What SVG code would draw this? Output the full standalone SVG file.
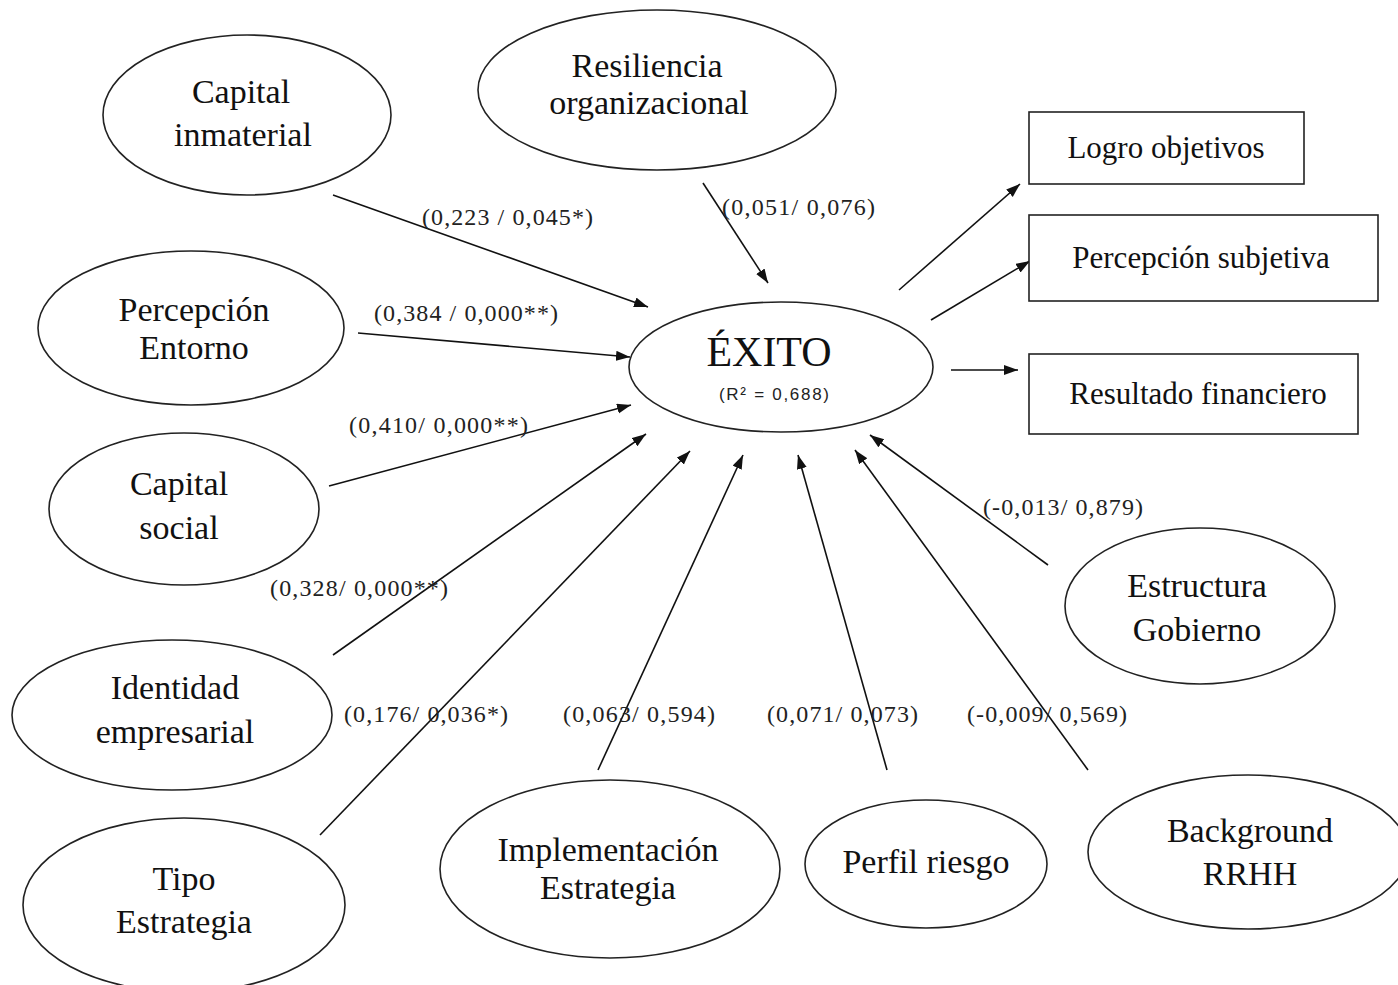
<svg xmlns="http://www.w3.org/2000/svg" width="1398" height="985" viewBox="0 0 1398 985">
<style>
.n ellipse, .n rect { fill: #fff; stroke: #222; stroke-width: 1.6; }
.t { font-family: "Liberation Serif", "Times New Roman", serif; font-size: 34px; fill: #111; text-anchor: middle; }
.bt { font-family: "Liberation Serif", "Times New Roman", serif; font-size: 31px; fill: #111; text-anchor: middle; }
.lb { font-family: "Liberation Serif", "Times New Roman", serif; font-size: 24px; fill: #222; }
.c line { stroke: #111; stroke-width: 1.6; marker-end: url(#ah); }
</style>
<defs>
<marker id="ah" markerUnits="userSpaceOnUse" markerWidth="15" markerHeight="11" refX="14" refY="5" orient="auto">
<path d="M0,0 L14,5 L0,10 z" fill="#111"/>
</marker>
</defs>
<rect width="1398" height="985" fill="#fff"/>

<g id="connectors" class="c">
<line x1="333" y1="195" x2="648" y2="307"/>
<line x1="703" y1="183" x2="768" y2="283"/>
<line x1="358" y1="333" x2="630" y2="357"/>
<line x1="329" y1="486" x2="631" y2="405"/>
<line x1="333" y1="655" x2="646" y2="434"/>
<line x1="320" y1="835" x2="690" y2="451"/>
<line x1="598" y1="770" x2="743" y2="455"/>
<line x1="887" y1="770" x2="798" y2="455"/>
<line x1="1088" y1="770" x2="855" y2="450"/>
<line x1="1048" y1="565" x2="870" y2="435"/>
<line x1="899" y1="290" x2="1020" y2="184"/>
<line x1="931" y1="320" x2="1030" y2="261"/>
<line x1="951" y1="370" x2="1018" y2="370"/>
</g>

<g id="labels">
<text class="lb" x="422" y="225" textLength="171" lengthAdjust="spacing">(0,223 / 0,045*)</text>
<text class="lb" x="722" y="215" textLength="153" lengthAdjust="spacing">(0,051/ 0,076)</text>
<text class="lb" x="374" y="321" textLength="184" lengthAdjust="spacing">(0,384 / 0,000**)</text>
<text class="lb" x="349" y="433" textLength="179" lengthAdjust="spacing">(0,410/ 0,000**)</text>
<text class="lb" x="270" y="596" textLength="178" lengthAdjust="spacing">(0,328/ 0,000**)</text>
<text class="lb" x="344" y="722" textLength="164" lengthAdjust="spacing">(0,176/ 0,036*)</text>
<text class="lb" x="563" y="722" textLength="152" lengthAdjust="spacing">(0,063/ 0,594)</text>
<text class="lb" x="767" y="722" textLength="151" lengthAdjust="spacing">(0,071/ 0,073)</text>
<text class="lb" x="967" y="722" textLength="160" lengthAdjust="spacing">(-0,009/ 0,569)</text>
<text class="lb" x="983" y="515" textLength="160" lengthAdjust="spacing">(-0,013/ 0,879)</text>
</g>

<g id="exito" class="n">
<ellipse cx="781" cy="367" rx="152" ry="65"/>
<text class="t" x="769" y="366" style="font-size:42px">ÉXITO</text>
<text x="774" y="400" style="font-family:'Liberation Sans',Arial,sans-serif;font-size:17px;fill:#222;text-anchor:middle" textLength="110" lengthAdjust="spacing">(R² = 0,688)</text>
</g>

<g id="capital-inmaterial" class="n">
<ellipse cx="247" cy="115" rx="144" ry="80"/>
<text class="t" x="241" y="103">Capital</text>
<text class="t" x="243" y="146">inmaterial</text>
</g>

<g id="resiliencia" class="n">
<ellipse cx="657" cy="90" rx="179" ry="80"/>
<text class="t" x="647" y="77">Resiliencia</text>
<text class="t" x="649" y="114">organizacional</text>
</g>

<g id="percepcion-entorno" class="n">
<ellipse cx="191" cy="328" rx="153" ry="77"/>
<text class="t" x="194" y="321">Percepción</text>
<text class="t" x="194" y="359">Entorno</text>
</g>

<g id="capital-social" class="n">
<ellipse cx="184" cy="509" rx="135" ry="76"/>
<text class="t" x="179" y="495">Capital</text>
<text class="t" x="179" y="539">social</text>
</g>

<g id="identidad" class="n">
<ellipse cx="172" cy="715" rx="160" ry="75"/>
<text class="t" x="175" y="699">Identidad</text>
<text class="t" x="175" y="743">empresarial</text>
</g>

<g id="tipo-estrategia" class="n">
<ellipse cx="184" cy="905" rx="161" ry="87"/>
<text class="t" x="184" y="890">Tipo</text>
<text class="t" x="184" y="933">Estrategia</text>
</g>

<g id="implementacion" class="n">
<ellipse cx="610" cy="869" rx="170" ry="89"/>
<text class="t" x="608" y="861">Implementación</text>
<text class="t" x="608" y="899">Estrategia</text>
</g>

<g id="perfil-riesgo" class="n">
<ellipse cx="926" cy="864" rx="121" ry="64"/>
<text class="t" x="926" y="873">Perfil riesgo</text>
</g>

<g id="background" class="n">
<ellipse cx="1248" cy="852" rx="160" ry="77"/>
<text class="t" x="1250" y="842">Background</text>
<text class="t" x="1250" y="885">RRHH</text>
</g>

<g id="estructura" class="n">
<ellipse cx="1200" cy="606" rx="135" ry="78"/>
<text class="t" x="1197" y="597">Estructura</text>
<text class="t" x="1197" y="641">Gobierno</text>
</g>

<g id="logro" class="n">
<rect x="1029" y="112" width="275" height="72"/>
<text class="bt" x="1166" y="158">Logro objetivos</text>
</g>

<g id="percepcion-subjetiva" class="n">
<rect x="1029" y="215" width="349" height="86"/>
<text class="bt" x="1201" y="268">Percepción subjetiva</text>
</g>

<g id="resultado" class="n">
<rect x="1029" y="354" width="329" height="80"/>
<text class="bt" x="1198" y="404">Resultado financiero</text>
</g>
</svg>
